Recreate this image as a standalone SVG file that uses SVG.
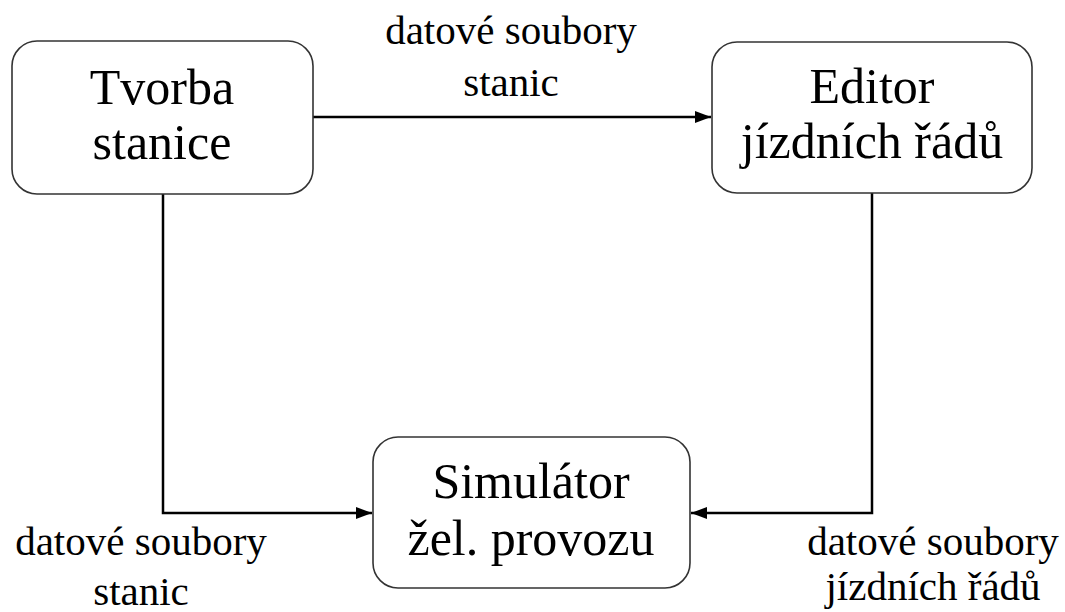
<svg xmlns="http://www.w3.org/2000/svg" width="1065" height="612" viewBox="0 0 1065 612">
<style>
.box{fill:#fff;stroke:#333;stroke-width:1.6}
.t{font-family:'Liberation Serif','Times New Roman','DejaVu Serif',serif;font-size:50px;fill:#000;text-anchor:middle}
.l{font-family:'Liberation Serif','Times New Roman','DejaVu Serif',serif;font-size:41px;fill:#000;text-anchor:middle}
.c{fill:none;stroke:#000;stroke-width:2.5}
</style>
<defs>
<marker id="ah" markerWidth="16" markerHeight="12" refX="16" refY="6" orient="auto" markerUnits="userSpaceOnUse">
<path d="M0,0 L16,6 L0,12 Z" fill="#000"/>
</marker>
</defs>
<rect width="1065" height="612" fill="#fff"/>
<g id="connectors">
<line class="c" x1="313" y1="117" x2="711" y2="117" marker-end="url(#ah)"/>
<polyline class="c" points="163,194 163,513 372,513" marker-end="url(#ah)"/>
<polyline class="c" points="872,193 872,513 691,513" marker-end="url(#ah)"/>
<text class="l" x="511" y="44" font-family="Liberation Serif, serif">datové soubory</text>
<text class="l" x="511" y="96" font-family="Liberation Serif, serif">stanic</text>
<text class="l" x="141" y="555" font-family="Liberation Serif, serif">datové soubory</text>
<text class="l" x="141" y="605" font-family="Liberation Serif, serif">stanic</text>
<text class="l" x="933" y="555" font-family="Liberation Serif, serif">datové soubory</text>
<text class="l" x="933" y="600" font-family="Liberation Serif, serif">jízdních řádů</text>
</g>
<g id="tvorba">
<rect class="box" x="12" y="41" width="301" height="153" rx="25"/>
<text class="t" x="162" y="104" font-family="Liberation Serif, serif">Tvorba</text>
<text class="t" x="162" y="159" font-family="Liberation Serif, serif">stanice</text>
</g>
<g id="editor">
<rect class="box" x="712" y="42" width="320" height="151" rx="25"/>
<text class="t" x="872" y="103" font-family="Liberation Serif, serif">Editor</text>
<text class="t" x="872" y="158" font-family="Liberation Serif, serif">jízdních řádů</text>
</g>
<g id="simulator">
<rect class="box" x="373" y="437" width="317" height="151" rx="25"/>
<text class="t" x="531" y="498" font-family="Liberation Serif, serif">Simulátor</text>
<text class="t" x="531" y="555" font-family="Liberation Serif, serif">žel. provozu</text>
</g>
</svg>
